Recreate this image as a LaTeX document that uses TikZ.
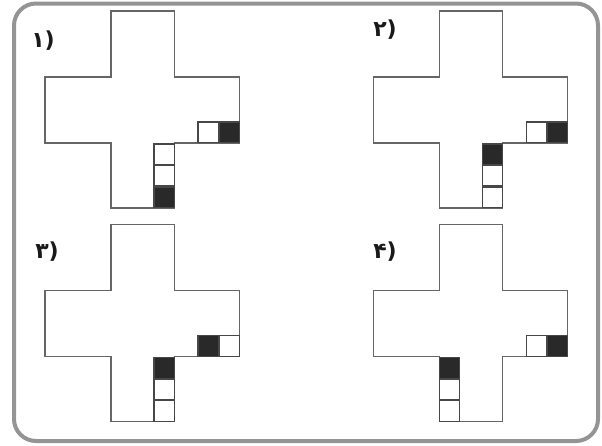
\documentclass[tikz,border=0pt]{standalone}
\usepackage{fontspec}
\newfontfamily\fafont{DejaVu Sans}
\newcommand\cellsq[3]{\draw[#3] (#1,#2) rectangle ++(20.5,20.5);}
\tikzset{
  crossline/.style={draw=black!60, line width=1.1pt},
  cellw/.style={draw=black!72, line width=1.1pt, fill=white},
  cellb/.style={draw=black!72, line width=1.1pt, fill=black!84},
  framebox/.style={draw=black!42, line width=4pt, rounded corners=22pt},
  lbl/.style={font=\fafont\bfseries\fontsize{22}{22}\selectfont, inner sep=0pt, text=black!90},
  plus/.pic={\draw[crossline] (66,0) -- (129.5,0) -- (129.5,66) -- (194.5,66) -- (194.5,132)
      -- (129.5,132) -- (129.5,197) -- (66,197) -- (66,132) -- (0,132) -- (0,66) -- (66,66) -- cycle;}
}
\begin{document}
\begin{tikzpicture}[x=1pt,y=-1pt]
\useasboundingbox (0,0) rectangle (602,445);
\draw[framebox] (14,3.5) rectangle (598,441);
% panel 1
\begin{scope}[shift={(45,11)}]
  \pic {plus};
  \cellsq{153}{111}{cellw}
  \cellsq{174}{111}{cellb}
  \cellsq{109}{133}{cellw}
  \cellsq{109}{154.5}{cellw}
  \cellsq{109}{176}{cellb}
\end{scope}
% panel 2
\begin{scope}[shift={(373.3,11)}]
  \pic {plus};
  \cellsq{153}{111}{cellw}
  \cellsq{174}{111}{cellb}
  \cellsq{109}{133}{cellb}
  \cellsq{109}{154.5}{cellw}
  \cellsq{109}{176}{cellw}
\end{scope}
% panel 3
\begin{scope}[shift={(45,224.7)}]
  \pic {plus};
  \cellsq{153}{111}{cellb}
  \cellsq{174}{111}{cellw}
  \cellsq{109}{133}{cellb}
  \cellsq{109}{154.5}{cellw}
  \cellsq{109}{176}{cellw}
\end{scope}
% panel 4
\begin{scope}[shift={(373.3,224.7)}]
  \pic {plus};
  \cellsq{153}{111}{cellw}
  \cellsq{174}{111}{cellb}
  \cellsq{66}{133}{cellb}
  \cellsq{66}{154.5}{cellw}
  \cellsq{66}{176}{cellw}
\end{scope}
\node[lbl] (l1) at (43,41) {۱)};
\node[lbl] (l2) at (385,30) {۲)};
\node[lbl] (l3) at (47,252) {۳)};
\node[lbl] (l4) at (385,252) {۴)};
\end{tikzpicture}
\end{document}
